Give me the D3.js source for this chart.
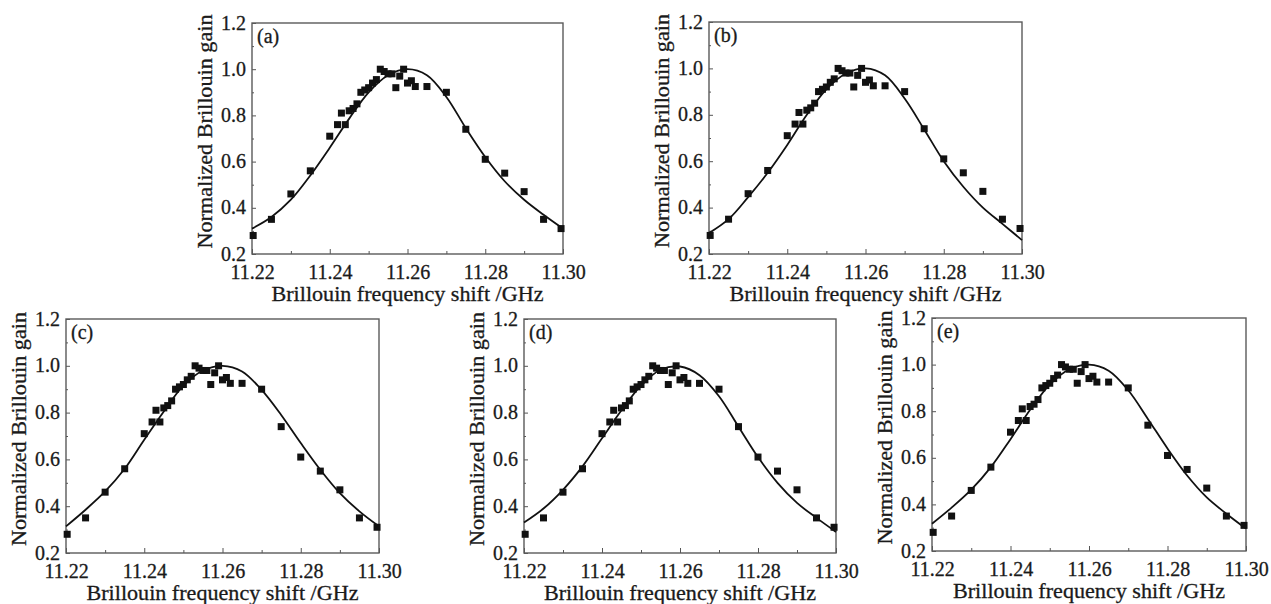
<!DOCTYPE html>
<html>
<head>
<meta charset="utf-8">
<script src="https://cdnjs.cloudflare.com/ajax/libs/d3/7.8.5/d3.min.js"></script>
<style>
  body { margin: 0; background: #fff; }
  svg text { font-family: "Liberation Serif", "DejaVu Serif", serif; fill: #1a1a1a; stroke: #1a1a1a; stroke-width: 0.3px; }
</style>
</head>
<body>
<div id="chart"></div>
<script>
// measured points (same in every panel)
const freqShift = [11.2203, 11.225, 11.23, 11.235, 11.24, 11.242, 11.243, 11.244, 11.245, 11.246,
  11.247, 11.248, 11.249, 11.25, 11.251, 11.252, 11.253, 11.254, 11.255, 11.256,
  11.257, 11.258, 11.259, 11.26, 11.261, 11.262, 11.265, 11.27, 11.275, 11.28,
  11.285, 11.29, 11.295, 11.2995];
const gainMeasured = [0.28, 0.35, 0.46, 0.56, 0.71, 0.76, 0.81, 0.76, 0.82, 0.83,
  0.85, 0.90, 0.91, 0.92, 0.94, 0.955, 1.00, 0.99, 0.98, 0.98,
  0.92, 0.97, 1.00, 0.94, 0.95, 0.925, 0.925, 0.90, 0.74, 0.61,
  0.55, 0.47, 0.35, 0.31];

// fitted curves
const fitX = [11.22, 11.225, 11.23, 11.235, 11.24, 11.245, 11.25, 11.255, 11.26,
  11.265, 11.27, 11.275, 11.28, 11.285, 11.29, 11.295, 11.30];
const fitA = [0.31, 0.36, 0.435, 0.54, 0.66, 0.786, 0.90, 0.974, 1.0, 0.974, 0.88, 0.745, 0.62, 0.515, 0.435, 0.37, 0.31];
const fitB = [0.29, 0.35, 0.445, 0.55, 0.67, 0.80, 0.91, 0.978, 1.0, 0.97, 0.87, 0.737, 0.60, 0.49, 0.40, 0.33, 0.26];
const fitC = [0.314, 0.385, 0.463, 0.56, 0.684, 0.805, 0.915, 0.98, 1.0, 0.976, 0.897, 0.79, 0.67, 0.556, 0.456, 0.378, 0.314];
const fitD = [0.33, 0.39, 0.47, 0.57, 0.69, 0.81, 0.915, 0.983, 0.997, 0.96, 0.87, 0.74, 0.61, 0.50, 0.414, 0.35, 0.29];
const fitE = [0.317, 0.386, 0.463, 0.56, 0.68, 0.806, 0.914, 0.98, 1.0, 0.974, 0.89, 0.767, 0.64, 0.524, 0.43, 0.36, 0.296];

const panelLabels = ['(a)', '(b)', '(c)', '(d)', '(e)'];
const xTicks = [11.22, 11.24, 11.26, 11.28, 11.30];
const xMinor = [11.23, 11.25, 11.27, 11.29];
const yTicks = [0.2, 0.4, 0.6, 0.8, 1.0, 1.2];
const yMinor = [0.3, 0.5, 0.7, 0.9, 1.1];

const fits = [fitA, fitB, fitC, fitD, fitE];

// plot boxes in pixels
const boxes = [
  { left: 252, top: 23, right: 563, bottom: 254 },
  { left: 709, top: 22, right: 1022, bottom: 254 },
  { left: 66, top: 319, right: 379, bottom: 553 },
  { left: 524, top: 319, right: 836, bottom: 553 },
  { left: 932, top: 318, right: 1246, bottom: 551 }
];

const svg = d3.select('#chart').append('svg')
  .attr('width', 1271)
  .attr('height', 604);

const measured = freqShift.map((f, i) => ({ f, g: gainMeasured[i] }));

boxes.forEach((b, k) => {
  const w = b.right - b.left;
  const h = b.bottom - b.top;
  const g = svg.append('g').attr('transform', `translate(${b.left},${b.top})`);

  const x = d3.scaleLinear().domain([11.22, 11.30]).range([0, w]);
  const y = d3.scaleLinear().domain([0.2, 1.2]).range([h, 0]);

  // minor ticks (inward)
  g.append('g')
    .attr('transform', `translate(0,${h})`)
    .call(d3.axisBottom(x).tickValues(xMinor).tickSize(-3).tickFormat(''))
    .call(s => s.select('.domain').remove());
  g.append('g')
    .call(d3.axisLeft(y).tickValues(yMinor).tickSize(-2).tickFormat(''))
    .call(s => s.select('.domain').remove());

  // major ticks
  const xa = g.append('g')
    .attr('transform', `translate(0,${h})`)
    .call(d3.axisBottom(x).tickValues(xTicks).tickSize(-5).tickPadding(13).tickFormat(d3.format('.2f')));
  xa.select('.domain').remove();
  xa.attr('font-family', null).attr('font-size', 20);
  xa.selectAll('text').attr('dy', '0.62em');

  const ya = g.append('g')
    .call(d3.axisLeft(y).tickValues(yTicks).tickSize(-4).tickPadding(6).tickFormat(d3.format('.1f')));
  ya.select('.domain').remove();
  ya.attr('font-family', null).attr('font-size', 20);
  ya.selectAll('text').attr('dy', '0.3em');

  g.selectAll('.tick line').attr('stroke', '#555');

  // frame
  g.append('rect')
    .attr('width', w)
    .attr('height', h)
    .attr('fill', 'none')
    .attr('stroke', '#5a5a5a')
    .attr('stroke-width', 1.4);

  // fitted curve
  const line = d3.line()
    .x((d, i) => x(fitX[i]))
    .y(d => y(d))
    .curve(d3.curveCatmullRom);
  g.append('path')
    .datum(fits[k])
    .attr('d', line)
    .attr('fill', 'none')
    .attr('stroke', '#111')
    .attr('stroke-width', 1.8);

  // measured points
  const sq = 7;
  g.selectAll('.pt')
    .data(measured)
    .enter()
    .append('rect')
    .attr('class', 'pt')
    .attr('x', d => x(d.f) - sq / 2)
    .attr('y', d => y(d.g) - sq / 2)
    .attr('width', sq)
    .attr('height', sq)
    .attr('fill', '#111');

  // panel label
  g.append('text')
    .attr('x', 5)
    .attr('y', 20)
    .attr('font-size', 20)
    .text(panelLabels[k]);

  // axis titles
  g.append('text')
    .attr('x', w / 2)
    .attr('y', h + 47)
    .attr('text-anchor', 'middle')
    .attr('font-size', 21)
    .attr('textLength', 272)
    .attr('lengthAdjust', 'spacingAndGlyphs')
    .text('Brillouin frequency shift /GHz');

  g.append('text')
    .attr('transform', `translate(-40,${h / 2 - 7}) rotate(-90)`)
    .attr('text-anchor', 'middle')
    .attr('font-size', 21)
    .attr('textLength', 234)
    .attr('lengthAdjust', 'spacingAndGlyphs')
    .text('Normalized Brillouin gain');
});
</script>
</body>
</html>
